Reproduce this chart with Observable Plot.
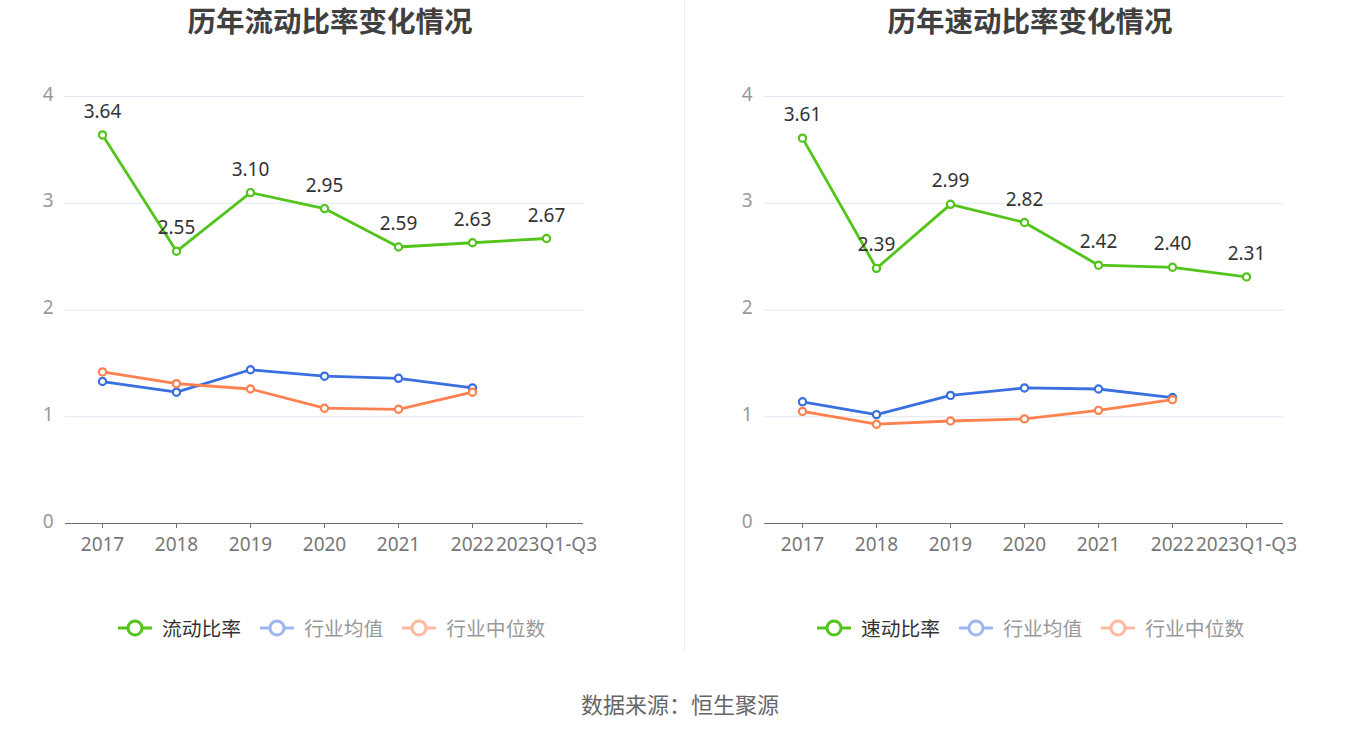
<!DOCTYPE html>
<html><head><meta charset="utf-8">
<script src="https://cdn.jsdelivr.net/npm/d3@7"></script>
<script src="https://cdn.jsdelivr.net/npm/@observablehq/plot@0.6"></script>
<style>
body{margin:0;width:1360px;height:734px;background:#fff;font-family:"Noto Sans CJK SC","Noto Sans",sans-serif;position:relative;overflow:hidden}
.title{position:absolute;top:4px;font-size:28.5px;line-height:32px;font-weight:bold;color:#404040;text-align:center;width:500px}
.chart{position:absolute;top:70px}
.legend{position:absolute;top:616px;display:flex;font-size:19.8px;line-height:24px;align-items:center}
.li{display:flex;align-items:center;margin-right:19px}
.li svg{margin-right:10px}
.divider{position:absolute;left:684px;top:0;width:1px;height:652px;background:#eee}
.source{position:absolute;top:688px;left:0;width:1360px;text-align:center;font-size:22px;line-height:30px;color:#666}
</style></head>
<body>
<div class="title" style="left:80px">历年流动比率变化情况</div>
<div class="title" style="left:780px">历年速动比率变化情况</div>
<div class="divider"></div>
<div id="c1" class="chart" style="left:0px"></div>
<div id="c2" class="chart" style="left:699px"></div>
<div id="l1" class="legend" style="left:118px"></div>
<div id="l2" class="legend" style="left:817px"></div>
<div class="source">数据来源：恒生聚源</div>
<script>
const years = ["2017","2018","2019","2020","2021","2022","2023Q1-Q3"];
const yTicks = [0,1,2,3,4];
// 流动比率
const currentRatio = [3.64,2.55,3.10,2.95,2.59,2.63,2.67];
const currentIndAvg = [1.33,1.23,1.44,1.38,1.36,1.27,null];
const currentIndMed = [1.42,1.31,1.26,1.08,1.07,1.23,null];
// 速动比率
const quickRatio = [3.61,2.39,2.99,2.82,2.42,2.40,2.31];
const quickIndAvg = [1.14,1.02,1.20,1.27,1.26,1.18,null];
const quickIndMed = [1.05,0.93,0.96,0.98,1.06,1.16,null];

const GREEN="#52c41a", BLUE="#3a6fe0", ORANGE="#ff8150";
const FONT='"Noto Sans","Noto Sans CJK SC",sans-serif';

function rows(vals){return years.map((x,i)=>({x,v:vals[i]})).filter(d=>d.v!=null);}

function chart(main, avg, med, width, mr){
  const m=rows(main), a=rows(avg), d=rows(med);
  const ser=[[a,BLUE],[d,ORANGE],[m,GREEN]];
  const marks=[
    Plot.gridY(yTicks.filter(t=>t>0),{stroke:"#e0e6f1",strokeOpacity:1,strokeWidth:1}),
    Plot.ruleY([0],{stroke:"#6e7079",strokeWidth:1.2})
  ];
  for(const [r,c] of ser){
    marks.push(Plot.line(r,{x:"x",y:"v",stroke:c,strokeWidth:2.8}));
    marks.push(Plot.dot(r,{x:"x",y:"v",r:3.6,fill:"#fff",stroke:c,strokeWidth:2.2}));
  }
  marks.push(Plot.text(m,{x:"x",y:"v",text:d=>d.v.toFixed(2),dy:-23,fill:"#333",fontSize:19}));
  return Plot.plot({
    width, height:490, marginLeft:65, marginRight:mr, marginTop:26, marginBottom:37,
    style:{fontFamily:FONT,background:"transparent",overflow:"visible"},
    x:{type:"point",domain:years,padding:0.5,label:null},
    y:{domain:[0,4],label:null},
    axis:null,
    marks:[
      ...marks,
      Plot.axisX({anchor:"bottom",tickSize:5,tickPadding:9,fontSize:19,stroke:"#6e7079",fill:"#777",label:null}),
      Plot.axisY({anchor:"left",ticks:yTicks,tickFormat:d=>String(d),tickSize:0,tickPadding:12,fontSize:19,fill:"#999",label:null,dy:-2})
    ]
  });
}
document.getElementById("c1").appendChild(chart(currentRatio,currentIndAvg,currentIndMed,680,97));
document.getElementById("c2").appendChild(chart(quickRatio,quickIndAvg,quickIndMed,661,77));

function legend(id, names){
  const items=[[names[0],GREEN,"#333"],[names[1],"#9db7f0","#999"],[names[2],"#ffb9a0","#999"]];
  const el=document.getElementById(id);
  for(const [n,c,tc] of items){
    const div=document.createElement("div");div.className="li";
    div.innerHTML=`<svg width="34" height="20"><line x1="0" y1="10" x2="34" y2="10" stroke="${c}" stroke-width="3"/><circle cx="17" cy="10" r="7" fill="#fff" stroke="${c}" stroke-width="3"/></svg><span style="color:${tc}">${n}</span>`;
    el.appendChild(div);
  }
}
legend("l1",["流动比率","行业均值","行业中位数"]);
legend("l2",["速动比率","行业均值","行业中位数"]);
</script>
</body></html>
